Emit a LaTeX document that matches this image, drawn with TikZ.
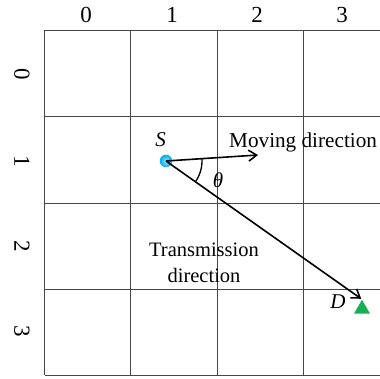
\documentclass[tikz,border=0pt]{standalone}
\usepackage{fontspec}
\setmainfont{Liberation Serif}
\usetikzlibrary{arrows.meta,shapes.geometric}
\definecolor{ballblue}{RGB}{0,170,235}
\definecolor{ballhi}{RGB}{150,230,255}
\definecolor{trigreen}{RGB}{25,175,85}
\begin{document}
\begin{tikzpicture}[x=1pt,y=-1pt,
 gridline/.style={draw=black!72, line width=1pt},
 lab/.style={font=\fontsize{23}{23}\selectfont, inner sep=0pt},
 txt/.style={font=\fontsize{20.5}{26}\selectfont, inner sep=0pt},
 itlab/.style={font=\fontsize{21}{21}\selectfont\itshape, inner sep=0pt},
 arr/.style={line width=1.6pt, -{Straight Barb[length=8pt,width=11pt]}}]
\useasboundingbox (0,0) rectangle (380,378);
% grid
\foreach \y in {30,116.5,203,289.5,375} \draw[gridline] (44.5,\y) -- (380,\y);
\foreach \x in {44.5,130.5,217,303} \draw[gridline] (\x,30) -- (\x,375);
% column labels
\node[lab] (c0) at (86,15) {0};
\node[lab] (c1) at (172,15) {1};
\node[lab] (c2) at (257,15) {2};
\node[lab] (c3) at (342,15) {3};
% row labels
\node[lab, rotate=-90] (r0) at (22,74) {0};
\node[lab, rotate=-90] (r1) at (22,161) {1};
\node[lab, rotate=-90] (r2) at (22,246) {2};
\node[lab, rotate=-90] (r3) at (22,331) {3};
% source
\node[circle, minimum size=12.5pt, inner sep=0pt, shading=radial, inner color=ballhi, outer color=ballblue] (S) at (166,161) {};
\node[itlab] (Sl) at (160.5,140) {S};
% destination
\node[regular polygon, regular polygon sides=3, minimum size=18.5pt, inner sep=0pt, fill=trigreen] (D) at (362,309) {};
\node[itlab] (Dl) at (338,302) {D};
% moving direction
\coordinate (M) at (258,155);
\draw[arr] (S.center) -- (M);
\node[txt, font=\fontsize{21.2}{26}\selectfont, anchor=base west] (mv) at (229,147) {Moving direction};
% transmission
\draw[arr, shorten >=1pt] (S.center) -- (D.north);
\node[txt, anchor=base] (tr1) at (204,256) {Transmission};
\node[txt, anchor=base] (tr2) at (204,282) {direction};
% angle
\draw[line width=1.3pt] (S.center) ++(-3.7:36) arc[start angle=-3.7, end angle=35.3, radius=36];
\node[itlab] (th) at (218,180) {θ};
\end{tikzpicture}
\end{document}
